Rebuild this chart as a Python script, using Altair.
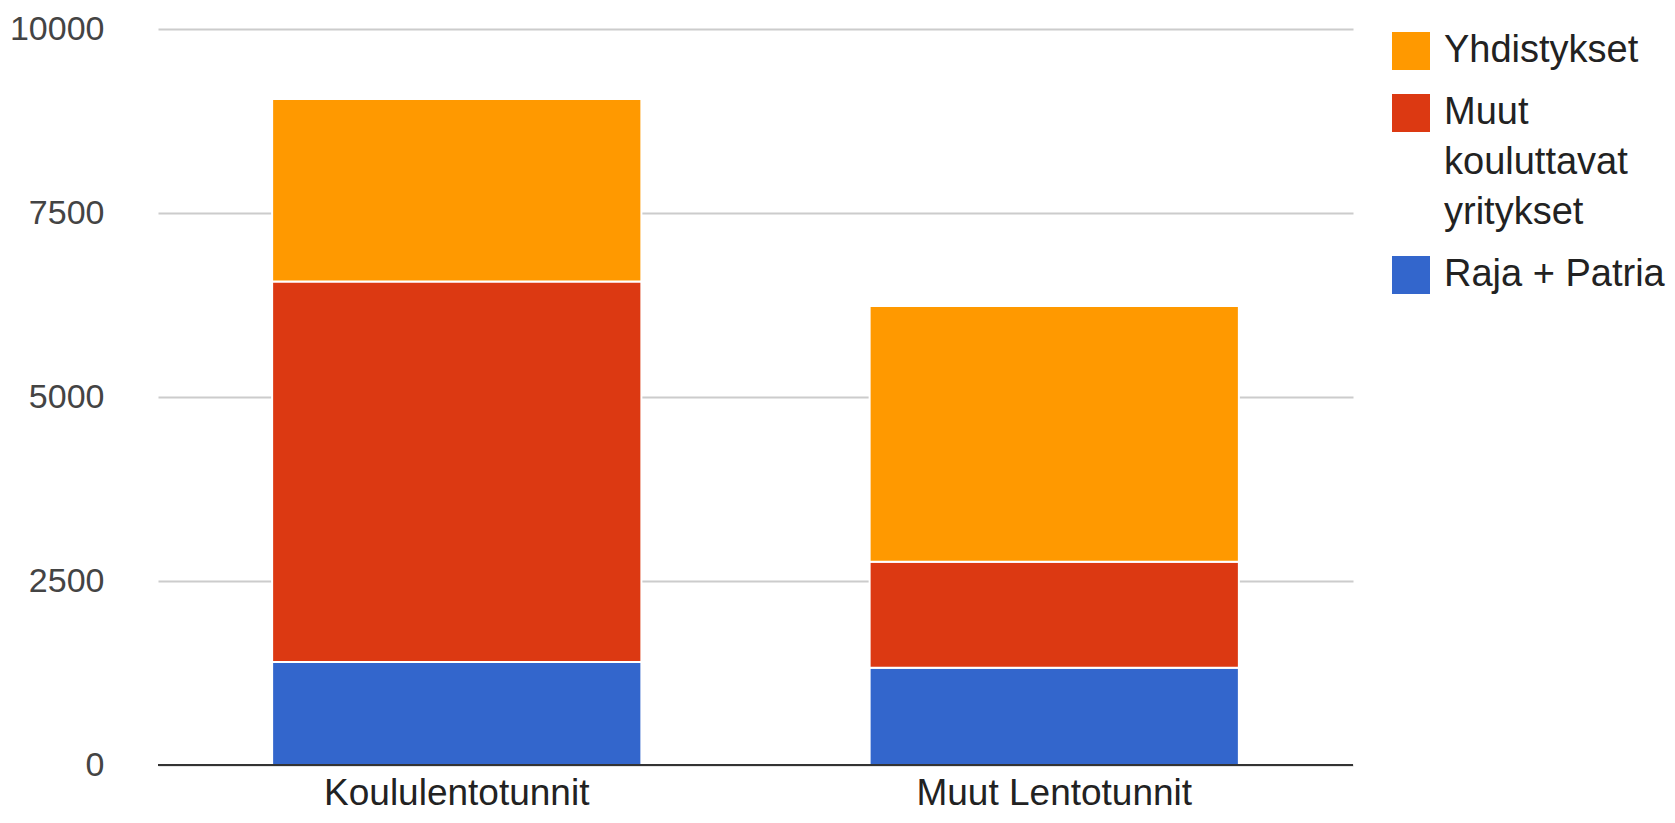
import altair as alt
import pandas as pd

categories = ["Koululentotunnit", "Muut Lentotunnit"]
series = ["Raja + Patria", "Muut kouluttavat yritykset", "Yhdistykset"]
raja_patria = [1400, 1320]
muut_yritykset = [5170, 1440]
yhdistykset = [2480, 3476]
y_ticks = [0, 2500, 5000, 7500, 10000]
colors = ["#FF9900", "#DC3912", "#3366CC"]

rows = []
for i, c in enumerate(categories):
    for order, (s, vals) in enumerate(zip(series, [raja_patria, muut_yritykset, yhdistykset])):
        rows.append({"cat": c, "series": s, "value": vals[i], "order": order})
df = pd.DataFrame(rows)

FONT = "Liberation Sans, Arial, sans-serif"

chart = alt.Chart(df).mark_bar(stroke="white", strokeWidth=2).encode(
    x=alt.X("cat:N", sort=categories, title=None,
            scale=alt.Scale(paddingInner=0.382, paddingOuter=0.191),
            axis=alt.Axis(labelAngle=0, labelFontSize=37, labelColor="#222222",
                          labelFont=FONT, ticks=False, domain=False, labelPadding=10,
                          labelLimit=0)),
    y=alt.Y("value:Q", stack="zero", title=None,
            scale=alt.Scale(domain=[0, 10000], nice=False),
            axis=alt.Axis(values=y_ticks, format="d", labelFontSize=34, labelColor="#444444",
                          labelFont=FONT, ticks=False, domain=False, labelPadding=54,
                          gridColor="#cccccc", gridWidth=2, labelLimit=0)),
    color=alt.Color("series:N",
                    scale=alt.Scale(domain=series[::-1], range=colors),
                    legend=alt.Legend(title=None, orient="none", legendX=1234, legendY=3,
                                      padding=0,
                                      labelFontSize=38, labelFont=FONT, labelColor="#222222",
                                      symbolType="square", symbolSize=1444, symbolStrokeWidth=0,
                                      labelExpr="datum.label == 'Muut kouluttavat yritykset' ? ['Muut', 'kouluttavat', 'yritykset'] : datum.label",
                                      rowPadding=24, labelOffset=14, labelLimit=0)),
    order=alt.Order("order:Q"),
)

zero = alt.Chart(pd.DataFrame({"v": [0]})).mark_rule(color="#333333", strokeWidth=2).encode(y="v:Q")

final = alt.layer(chart, zero).properties(
    width=1195, height=736,
    autosize=alt.AutoSizeParams(type="none"),
    padding={"left": 150, "top": 21, "right": 314, "bottom": 50},
).configure(
    style={"guide-label": {"lineHeight": 50}},
).configure_view(strokeWidth=0)

final.save("out.html", embed_options={"renderer": "svg", "actions": False})
